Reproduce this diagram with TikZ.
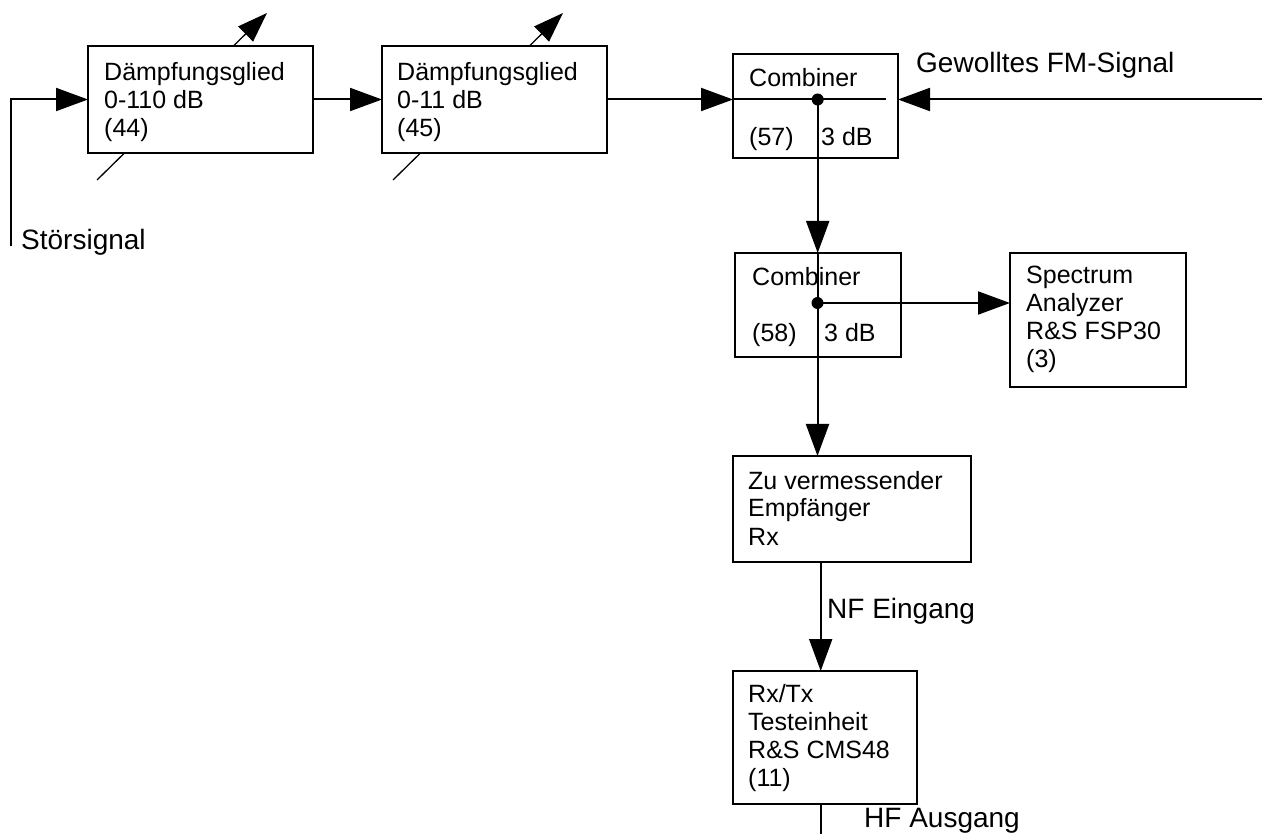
\documentclass[tikz,border=0pt]{standalone}
\usepackage{fontspec}
\setmainfont{Liberation Sans}
\usetikzlibrary{arrows.meta}
% stacked left-aligned lines; the node baseline is the first line's baseline
\newcommand\rows[1]{\vtop{\halign{##\hfil\cr#1\crcr}}}
\begin{document}
\begin{tikzpicture}[x=1pt,y=-1pt,
  box/.style={draw, line width=2pt, fill=white, anchor=north west, inner sep=0pt, outer sep=0pt},
  wire/.style={line width=2pt},
  flow/.style={wire, -{Triangle[length=32pt,width=23pt]}},
  knob/.style={line width=1.3pt, -{Triangle[length=30pt,width=21pt]}},
  txt/.style={anchor=base west, inner sep=0pt, font=\fontsize{25}{28}\selectfont},
  lbl/.style={anchor=base west, inner sep=0pt, font=\fontsize{28}{32}\selectfont},
  junction/.style={circle, fill, inner sep=0pt, minimum size=12pt}]
\useasboundingbox (0,0) rectangle (1262,834);

% adjustment arrows of the variable attenuators (boxes cover the middle part)
\coordinate (k1a) at (97,180);  \coordinate (k1b) at (267,13);
\coordinate (k2a) at (393,180); \coordinate (k2b) at (563,13);
\draw[knob] (k1a) -- (k1b);
\draw[knob] (k2a) -- (k2b);

% blocks
\node[box, minimum width=225pt, minimum height=107pt] (att1)  at (88,46)   {};
\node[box, minimum width=225pt, minimum height=107pt] (att2)  at (382,46)  {};
\node[box, minimum width=165pt, minimum height=104pt] (comb1) at (733,54)  {};
\node[box, minimum width=166pt, minimum height=104pt] (comb2) at (735,253) {};
\node[box, minimum width=176pt, minimum height=134pt] (spec)  at (1010,253){};
\node[box, minimum width=238pt, minimum height=106pt] (emp)   at (733,456) {};
\node[box, minimum width=184pt, minimum height=133pt] (rx)    at (733,671) {};

% block texts
\node[txt] (att1t) at (104,81) {\rows{Dämpfungsglied\cr 0-110 dB\cr (44)}};
\node[txt] (att2t) at (397,81) {\rows{Dämpfungsglied\cr 0-11 dB\cr (45)}};
\node[txt] (c1a) at (749,87)  {Combiner};
\node[txt] (c1b) at (749,146) {(57)};
\node[txt] (c1c) at (821,146) {3 dB};
\node[txt] (c2a) at (752,286) {Combiner};
\node[txt] (c2b) at (752,342) {(58)};
\node[txt] (c2c) at (824,342) {3 dB};
\node[txt] (spect) at (1026,284) {\rows{Spectrum\cr Analyzer\cr R\&S FSP30\cr (3)}};
\node[txt] (empt)  at (748,489) {\rows{Zu vermessender\cr Empfänger\cr Rx}};
\node[txt] (rxt)   at (748,702) {\rows{Rx/Tx\cr Testeinheit\cr R\&S CMS48\cr (11)}};

% free labels
\node[lbl] (l1) at (21,250)  {Störsignal};
\node[lbl] (l2) at (916,73)  {Gewolltes FM-Signal};
\node[lbl] (l3) at (827,618) {NF Eingang};
\node[lbl] (l4) at (864,827) {HF Ausgang};

% signal path
\coordinate (stoer) at (11,246);
\coordinate (fm) at (1262,99.5);
\coordinate (c1end) at (886,99.5);
\coordinate (nf) at (820.7,562);
\coordinate (hf) at (820.7,834);
\node[junction] (j1) at (817.7,99.5) {};
\node[junction] (j2) at (817.5,303) {};

\draw[flow] (stoer) |- (att1.west);
\draw[flow] (att1.east) -- (att2.west);
\draw[flow] (att2.east) -- (att2.east -| comb1.west);
\draw[flow] (fm) -- (fm -| comb1.east);
\draw[wire] (att2.east -| comb1.west) -- (c1end);
\draw[flow] (j1.center) -- (j1.center |- comb2.north);
\draw[flow] (j2.center |- comb2.north) -- (j2.center |- emp.north);
\draw[flow] (j2.center) -- (j2.center -| spec.west);
\draw[flow] (nf) -- (nf |- rx.north);
\draw[wire] (hf |- rx.south) -- (hf);
\end{tikzpicture}
\end{document}
